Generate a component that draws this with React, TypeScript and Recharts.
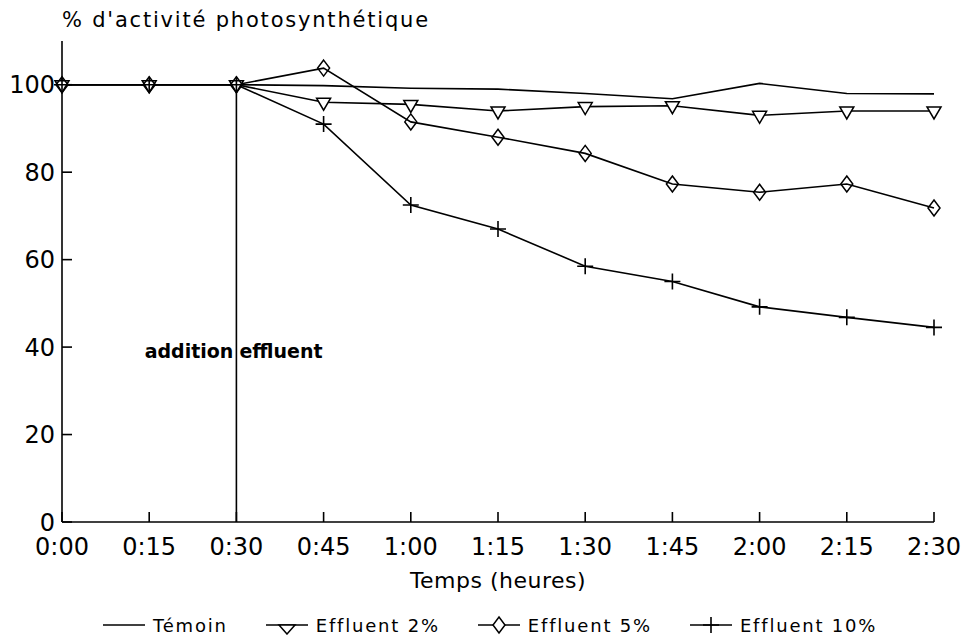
import {
  LineChart,
  Line,
  XAxis,
  YAxis,
  Legend,
  ReferenceLine,
} from 'recharts';

const FONT = '"DejaVu Sans", "Liberation Sans", sans-serif';

// time in hours (x axis categories)
const times = ['0:00', '0:15', '0:30', '0:45', '1:00', '1:15', '1:30', '1:45', '2:00', '2:15', '2:30'];

// % photosynthetic activity
const temoin = [100, 100, 100, 99.8, 99.2, 99, 98, 96.8, 100.3, 98, 97.9];
const effluent2 = [100, 100, 100, 96, 95.5, 94, 95, 95.2, 93, 94, 94];
const effluent5 = [100, 100, 100, 103.8, 91.5, 88, 84.3, 77.3, 75.4, 77.3, 71.8];
const effluent10 = [100, 100, 100, 91, 72.5, 67, 58.5, 55, 49.2, 46.8, 44.5];

const yTicks = [0, 20, 40, 60, 80, 100];

const data = times.map((t, i) => ({
  t,
  temoin: temoin[i],
  e2: effluent2[i],
  e5: effluent5[i],
  e10: effluent10[i],
}));

const triPath = (cx: number, cy: number) =>
  `M${cx - 7},${cy - 4}L${cx + 7},${cy - 4}L${cx},${cy + 8}Z`;
const diaPath = (cx: number, cy: number) =>
  `M${cx},${cy - 8}L${cx + 6},${cy}L${cx},${cy + 8}L${cx - 6},${cy}Z`;
const plusPath = (cx: number, cy: number) =>
  `M${cx - 8},${cy}L${cx + 8},${cy}M${cx},${cy - 8}L${cx},${cy + 8}`;

function TriangleDot(props: any) {
  const { cx, cy, index } = props;
  if (cx == null || cy == null) return null;
  return <path key={`tri-${index}`} d={triPath(cx, cy)} fill="#fff" stroke="#000" strokeWidth={1.5} />;
}

function DiamondDot(props: any) {
  const { cx, cy, index } = props;
  if (cx == null || cy == null) return null;
  return <path key={`dia-${index}`} d={diaPath(cx, cy)} fill="none" stroke="#000" strokeWidth={1.5} />;
}

function PlusDot(props: any) {
  const { cx, cy, index } = props;
  if (cx == null || cy == null) return null;
  return <path key={`plus-${index}`} d={plusPath(cx, cy)} fill="none" stroke="#000" strokeWidth={1.6} />;
}

const legendItems = [
  { name: 'Témoin', marker: 'none' },
  { name: 'Effluent 2%', marker: 'tri' },
  { name: 'Effluent 5%', marker: 'dia' },
  { name: 'Effluent 10%', marker: 'plus' },
];

function LegendIcon({ marker }: { marker: string }) {
  const w = 42;
  const cy = 10;
  const cx = w / 2;
  return (
    <svg width={w} height={20} style={{ display: 'block' }}>
      <line x1={0} y1={cy} x2={w} y2={cy} stroke="#000" strokeWidth={1.6} />
      {marker === 'tri' && (
        <path d={`M${cx - 8},${cy}L${cx + 8},${cy}L${cx},${cy + 9}Z`} fill="#fff" stroke="#000" strokeWidth={1.5} />
      )}
      {marker === 'dia' && <path d={diaPath(cx, cy)} fill="#fff" stroke="#000" strokeWidth={1.5} />}
      {marker === 'plus' && <path d={plusPath(cx, cy)} fill="none" stroke="#000" strokeWidth={1.6} />}
    </svg>
  );
}

function renderLegend() {
  return (
    <div
      style={{
        display: 'flex',
        alignItems: 'center',
        height: 40,
        paddingLeft: 103,
        paddingTop: 6,
        boxSizing: 'border-box',
        fontFamily: FONT,
        fontSize: 18,
        letterSpacing: 1.8,
        color: '#000',
      }}
    >
      {legendItems.map((item) => (
        <div key={item.name} style={{ display: 'flex', alignItems: 'center', marginRight: 38 }}>
          <LegendIcon marker={item.marker} />
          <span style={{ marginLeft: 8, whiteSpace: 'nowrap' }}>{item.name}</span>
        </div>
      ))}
    </div>
  );
}

function renderTitle(props: any) {
  const vb = props.viewBox;
  return (
    <text
      x={vb.x + vb.width}
      y={vb.y - 14}
      fontFamily={FONT}
      fontSize={21}
      letterSpacing={1.8}
      fill="#000"
    >
      % d'activité photosynthétique
    </text>
  );
}

function renderXLabel(props: any) {
  const vb = props.viewBox;
  return (
    <text
      x={vb.x + vb.width / 2}
      y={vb.y + 66}
      textAnchor="middle"
      fontFamily={FONT}
      fontSize={22}
      letterSpacing={0.5}
      fill="#000"
    >
      Temps (heures)
    </text>
  );
}

function renderAddition(props: any) {
  const vb = props.viewBox;
  if (!vb) return null;
  const y = vb.y + vb.height * (1 - 37.6 / 100);
  return (
    <g fontFamily={FONT} fontSize={19} fontWeight="bold" fill="#000">
      <text x={vb.x - 3} y={y} textAnchor="end">addition</text>
      <text x={vb.x + 3} y={y}>effluent</text>
    </g>
  );
}

export default function App() {
  return (
    <div style={{ position: 'absolute', left: 0, top: 0, width: 974, height: 642, background: '#fff' }}>
      <LineChart
        width={974}
        height={642}
        data={data}
        margin={{ top: 41, right: 40, left: 0, bottom: 0 }}
      >
        <XAxis
          dataKey="t"
          height={80}
          interval={0}
          stroke="#000"
          strokeWidth={1.6}
          tickSize={-10}
          tickMargin={26}
          tick={{ fill: '#000', fontSize: 24, fontFamily: FONT }}
          label={renderXLabel}
        />
        <YAxis
          width={62}
          domain={[0, 110]}
          ticks={yTicks}
          stroke="#000"
          strokeWidth={1.6}
          tickSize={-10}
          tickMargin={17}
          tick={{ fill: '#000', fontSize: 24, fontFamily: FONT }}
          label={renderTitle}
        />
        <ReferenceLine
          segment={[{ x: '0:30', y: 0 }, { x: '0:30', y: 100 }]}
          stroke="#000"
          strokeWidth={1.6}
          label={renderAddition}
        />
        <Legend verticalAlign="bottom" content={renderLegend} wrapperStyle={{ left: 0, width: 974, height: 40 }} />
        <Line
          dataKey="temoin"
          name="Témoin"
          stroke="#000"
          strokeWidth={1.6}
          dot={false}
          activeDot={false}
          isAnimationActive={false}
        />
        <Line
          dataKey="e2"
          name="Effluent 2%"
          stroke="#000"
          strokeWidth={1.6}
          dot={TriangleDot}
          activeDot={false}
          isAnimationActive={false}
        />
        <Line
          dataKey="e5"
          name="Effluent 5%"
          stroke="#000"
          strokeWidth={1.6}
          dot={DiamondDot}
          activeDot={false}
          isAnimationActive={false}
        />
        <Line
          dataKey="e10"
          name="Effluent 10%"
          stroke="#000"
          strokeWidth={1.6}
          dot={PlusDot}
          activeDot={false}
          isAnimationActive={false}
        />
      </LineChart>
    </div>
  );
}
